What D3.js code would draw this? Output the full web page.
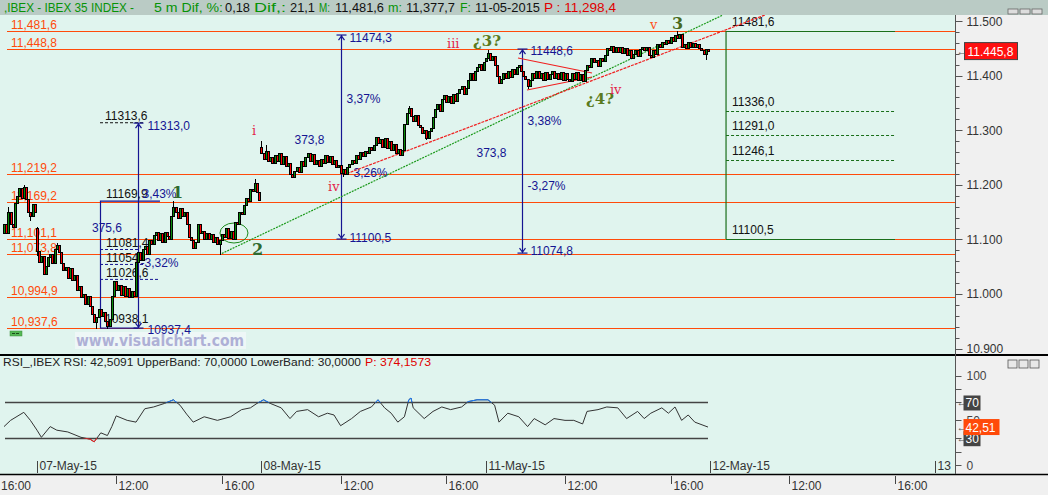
<!DOCTYPE html>
<html><head><meta charset="utf-8">
<script src="https://cdn.jsdelivr.net/npm/d3@7"></script>
<style>body{margin:0;background:#fff;overflow:hidden}svg{display:block;font-family:"Liberation Sans",Arial,sans-serif}</style>
</head><body><svg id="c" width="1048" height="495"></svg>
<script>
// ---------------- DATA ----------------
const dayLabels = ["06-May-15","07-May-15","08-May-15","11-May-15","12-May-15","13"];
const sessionMinutes = 510;          // 09:00 - 17:30
const barMinutes = 5;
const firstBarMinute = 435;          // 06-May 16:15
const dayOpens = [11112, 11120, 11270, 11426];
const closesMay06 = [11128,11112,11150,11128,11122,11166,11180,11194,11176,11196,11174,11150,11142,11164,11150];
const closesMay07 = [11078,11058,11070,11036,11052,11068,11074,11056,11082,11090,11076,11056,11044,11050,11030,11048,11026,11034,11008,11014,10994,11000,10982,10996,10978,10964,10948,10958,10972,10960,10966,10950,10942,10954,10996,11024,11008,11016,10998,11014,10996,11010,10994,11006,10996,11058,11076,11062,11082,11088,11074,11098,11092,11108,11114,11098,11112,11096,11114,11106,11100,11142,11160,11150,11140,11158,11142,11150,11128,11104,11098,11084,11096,11128,11112,11116,11100,11112,11100,11110,11096,11104,11092,11098,11110,11104,11120,11102,11116,11100,11132,11128,11150,11146,11162,11176,11170,11192,11188,11204,11186,11172];
const closesMay08 = [11258,11248,11262,11244,11250,11240,11254,11244,11258,11238,11252,11234,11240,11220,11214,11226,11232,11224,11244,11234,11250,11258,11244,11256,11238,11246,11234,11248,11240,11254,11242,11252,11238,11246,11232,11236,11222,11228,11220,11232,11238,11246,11240,11254,11248,11260,11252,11262,11258,11270,11264,11272,11288,11276,11284,11270,11286,11268,11280,11264,11274,11258,11266,11254,11264,11312,11332,11340,11326,11316,11328,11310,11306,11294,11300,11286,11298,11304,11324,11338,11348,11336,11358,11364,11352,11362,11350,11366,11354,11368,11376,11380,11366,11378,11392,11404,11392,11408,11416,11422,11410,11424.7];
const closesMay11 = [11432,11442,11428,11436,11420,11400,11386,11394,11404,11396,11408,11398,11412,11402,11416,11420,11408,11400,11394,11380,11392,11404,11396,11408,11396,11404,11392,11406,11394,11402,11408,11396,11404,11394,11406,11392,11404,11394,11390,11404,11394,11406,11392,11402,11390,11410,11420,11416,11432,11424,11428,11418,11432,11426,11438,11450,11446,11454,11444,11452,11444,11452,11442,11450,11438,11446,11432,11440,11446,11436,11448,11452,11446,11452,11438,11434,11446,11440,11458,11452,11462,11458,11466,11460,11470,11464,11474,11468,11476,11452,11458,11450,11462,11452,11460,11452,11458,11450,11446,11440,11448,11445.8];
// notable wicks: [dayIndex (0=06-May), bar, high, low]
const wicks = [[0,2,11160,null],[0,9,11200,null],[0,12,null,11136],[1,0,11122,11072],[1,9,11094,null],[1,27,null,10937],[1,32,null,10938.1],[1,62,11169.9,null],[1,83,null,11074],[1,99,11210,null],[2,0,11280,null],[2,2,11272,null],[2,37,null,11216],[2,67,11344,null],[2,75,null,11284],[3,1,11446,null],[3,19,null,11377.7],[3,87,11481.6,null],[3,100,null,11430]];
// horizontal support/resistance levels
const levels = [11481.6, 11448.8, 11219.2, 11169.2, 11101.1, 11073.8, 10994.9, 10937.6];
const levelLabels = ["11,481,6","11,448,8","11,219,2","11,169,2","11,101,1","11,073,8","10,994,9","10,937,6"];
// projection block (right)
const projLevels = [11481.6, 11336.0, 11291.0, 11246.1, 11100.5];
const projLabels = ["11481,6","11336,0","11291,0","11246,1","11100,5"];
const projDashed = [false, true, true, true, false];
// RSI samples: [global bar index, value]
const rsiBars   = [0,3,9,12,15,17,21,24,29,35,39,41,44,47,49,51,56,60,64,68,73,77,80,83,86,91,97,103,108,112,115,118,121,126,130,133,138,143,147,150,153,158,162,167,170,173,176,179,182,184,185,186,191,195,199,203,208,211,215,220,223,225,229,234,238,241,246,250,255,259,263,265,270,274,279,283,288,291,294,299,302,305,308,311,314,320];
const rsiValues = [43,50,59,50,39,31,43,39,37,31,29,26,36,33,43,55,50,48,63,65,69,73,67,57,48,54,50,54,62,64,69,73,69,64,52,60,62,54,58,56,44,52,60,65,73,64,58,48,54,73,75,64,52,60,65,62,65,71,73,73,67,48,58,54,43,52,45,52,50,50,46,60,62,65,64,52,60,52,58,64,58,65,50,56,48,42.5];
const yTicks = [10900,11000,11100,11200,11300,11400,11500];

// ---------------- SCALES ----------------
const svg = d3.select("#c");
const W = 1048, H = 495;
const axisX = 955, mainTop = 15, mainBot = 354, rsiTop = 356, rsiBot = 474;
const x = d3.scaleLinear().domain([0, 6*sessionMinutes]).range([-187.4, -187.4 + 6*224.4]);
const y = d3.scaleLinear().domain([10900, 11500]).range([348.5, 21]);
const yr = d3.scaleLinear().domain([0, 100]).range([465, 375.7]);
const T = (d, m) => d*sessionMinutes + m;

// build bars
const dayCloses = [closesMay06, closesMay07, closesMay08, closesMay11];
const bars = [];
dayCloses.forEach((arr, di) => {
  const start = di === 0 ? firstBarMinute : 0;
  arr.forEach((c, i) => {
    const o = i === 0 ? dayOpens[di] : arr[i-1];
    bars.push({d: di, i, t: T(di, start + i*barMinutes), o, c, h: Math.max(o,c), l: Math.min(o,c)});
  });
});
wicks.forEach(([d,i,h,l]) => {
  const b = bars.find(b => b.d === d && b.i === i);
  if (!b) return;
  if (h != null) b.h = Math.max(b.h, h);
  if (l != null) b.l = Math.min(b.l, l);
});

// ---------------- BACKGROUNDS ----------------
svg.append("rect").attr("width", W).attr("height", H).attr("fill", "#f0f0f0");
svg.append("rect").attr("x",0).attr("y",0).attr("width",W).attr("height",mainTop).attr("fill","#bacbc5");
svg.append("rect").attr("x",0).attr("y",mainTop).attr("width",axisX).attr("height",mainBot-mainTop).attr("fill","#e0f4ee");
svg.append("rect").attr("x",0).attr("y",rsiTop).attr("width",axisX).attr("height",rsiBot-rsiTop).attr("fill","#e0f4ee");
svg.append("line").attr("x1",0).attr("x2",W).attr("y1",mainBot+1).attr("y2",mainBot+1).attr("stroke","#000").attr("stroke-width",2);
svg.append("line").attr("x1",0).attr("x2",W).attr("y1",rsiBot+0.5).attr("y2",rsiBot+0.5).attr("stroke","#000").attr("stroke-width",1.5);
svg.append("line").attr("x1",axisX+0.5).attr("x2",axisX+0.5).attr("y1",mainTop).attr("y2",rsiBot).attr("stroke","#555");

// header
const green = "#079307";
const header = [[",IBEX - IBEX 35 INDEX -",4,130,green],["5 m Dif, %:",154,69,green],["0,18",225,25,"#111"],["Dif,:",254,32,green],["21,1",290,25,"#111"],["M:",319,11,green],["11,481,6",335,49,"#111"],["m:",388,14,green],["11,377,7",406,49,"#111"],["F:",460,11,green],["11-05-2015",475,65,"#111"],["P : 11,298,4",544,72,"#e00000"]];
header.forEach(([s,px,w,col]) => svg.append("text").attr("x",px).attr("y",12).attr("font-size",12).attr("textLength",w).attr("lengthAdjust","spacingAndGlyphs").attr("fill",col).text(s));

// ---------------- MAIN PANEL ----------------
const main = svg.append("g");
const clipM = svg.append("clipPath").attr("id","cm");
clipM.append("rect").attr("x",0).attr("y",mainTop).attr("width",axisX).attr("height",mainBot-mainTop);
const mg = main.append("g").attr("clip-path","url(#cm)");

// watermark
mg.append("rect").attr("x",75).attr("y",332).attr("width",171).attr("height",17).attr("fill","#eef7f7");
mg.append("text").attr("x",76).attr("y",346).attr("font-size",16).attr("font-weight","bold").attr("font-family","DejaVu Sans, Verdana, sans-serif").attr("textLength",168).attr("lengthAdjust","spacingAndGlyphs").attr("fill","#aeb0d6").text("www.visualchart.com");

// horizontal levels
const orange = "#ff4a0a";
levels.forEach((v, k) => {
  mg.append("line").attr("x1",7).attr("x2",axisX).attr("y1",Math.round(y(v))+0.5).attr("y2",Math.round(y(v))+0.5).attr("stroke",orange).attr("stroke-width",1.2);
  mg.append("text").attr("x",11).attr("y",Math.round(y(v))-2).attr("font-size",12).attr("fill",orange).text(levelLabels[k]);
});
// little green marker
mg.append("rect").attr("x",10).attr("y",331).attr("width",12).attr("height",5).attr("fill","#55b855").attr("stroke","#3a8a3a").attr("stroke-width",0.5);
mg.append("line").attr("x1",12).attr("x2",20).attr("y1",333.5).attr("y2",333.5).attr("stroke","#1a4a1a").attr("stroke-dasharray","3,1");

// projection block
const projX1 = x(2076), projX2 = x(2460);
const gpj = "#1a6e1a";
mg.append("line").attr("x1",projX1).attr("x2",projX1).attr("y1",y(projLevels[0])).attr("y2",y(projLevels[4])).attr("stroke",gpj).attr("stroke-width",1.2);
projLevels.forEach((v,k) => {
  mg.append("line").attr("x1",projX1).attr("x2",projX2).attr("y1",Math.round(y(v))+0.5).attr("y2",Math.round(y(v))+0.5)
    .attr("stroke",gpj).attr("stroke-width",1.2).attr("stroke-dasharray",projDashed[k]?"3,2":null);
  mg.append("text").attr("x",projX1+6).attr("y",y(v)-5).attr("font-size",12).attr("fill","#111").text(projLabels[k]);
});

// measurement annotations (navy)
const navy = "#151592";
function arrow(t, vTop, vBot){
  const ax = Math.round(x(t))+0.5, a = y(vTop), b = y(vBot);
  mg.append("line").attr("x1",ax).attr("x2",ax).attr("y1",a).attr("y2",b).attr("stroke",navy).attr("stroke-width",1.2);
  [[a,1],[b,-1]].forEach(([yy,s]) => {
    mg.append("line").attr("x1",ax-5).attr("x2",ax+5).attr("y1",yy).attr("y2",yy).attr("stroke",navy).attr("stroke-width",1.2);
    mg.append("path").attr("d",`M${ax-3},${yy+5*s}L${ax},${yy+1*s}L${ax+3},${yy+5*s}`).attr("fill","none").attr("stroke",navy).attr("stroke-width",1.2);
  });
  return ax;
}
function txt(px, py, s, col){ mg.append("text").attr("x",px).attr("y",py).attr("font-size",12).attr("fill",col).text(s); }

// box 1 (May 7)
const bx1 = x(653.2), bx2 = x(789.5);
mg.append("path").attr("d",`M${bx2},${y(11169.9)}H${Math.round(bx1)+0.5}V${y(10937.4)}H${x(739.5)}`).attr("fill","none").attr("stroke",navy).attr("stroke-width",1.2);
mg.append("line").attr("x1",bx1).attr("x2",x(755)).attr("y1",y(11313.6)).attr("y2",y(11313.6)).attr("stroke","#111").attr("stroke-dasharray","3,2");
[[11081.4,x(739.5)],[11054,x(753)],[11026.6,x(785)]].forEach(([v,x2]) => mg.append("line").attr("x1",bx1).attr("x2",x2).attr("y1",y(v)).attr("y2",y(v)).attr("stroke",navy).attr("stroke-dasharray","3,2"));
const a1 = arrow(739.5, 11313.0, 10937.4);
txt(bx1+5, y(11313.6)-3, "11313,6", "#111");
txt(a1+9, y(11313.0)+7, "11313,0", navy);
txt(bx1+6, y(11169.9)-3, "11169,9", "#111");
txt(a1+4, y(11169.9)-3, "3,43%", navy);
txt(bx1-8, y(11169.9)+31, "375,6", navy);
txt(bx1+6, y(11081.4)-2, "11081,4", "#111");
txt(bx1+6, y(11054)-2, "11054", "#111");
txt(bx1+6, y(11026.6)-2, "11026,6", "#111");
txt(a1+2, y(11054)+3, "-3,32%", navy);
txt(bx1+5, y(10937.4)-5, "10938,1", "#111");
txt(a1+9, y(10937.4)+6, "10937,4", navy);

// arrow 2 (May 8)
const a2 = arrow(1199.8, 11474.3, 11100.5);
txt(a2+8, y(11474.3)+7, "11474,3", navy);
txt(a2+8, y(11100.5)+3, "11100,5", navy);
txt(a2+5, y(11350), "3,37%", navy);
txt(a2-47, y(11275), "373,8", navy);
txt(a2+12, y(11215), "3,26%", navy);
// arrow 3 (May 11)
const a3 = arrow(1612.3, 11448.6, 11074.8);
txt(a3+8, y(11448.6)+6, "11448,6", navy);
txt(a3+8, y(11074.8)+2, "11074,8", navy);
txt(a3+5, y(11310), "3,38%", navy);
txt(a3-46, y(11250), "373,8", navy);
txt(a3+5, y(11190), "-3,27%", navy);

// trendlines
const lineGen = d3.line().x(p => x(p[0])).y(p => y(p[1]));
mg.append("path").attr("d", lineGen([[930,11074],[2069,11511]])).attr("stroke","#1c9a1c").attr("stroke-width",1.2).attr("stroke-dasharray","2,1").attr("fill","none");
mg.append("path").attr("d", lineGen([[1205.5,11217.8],[2164.5,11511]])).attr("stroke","#f02020").attr("stroke-width",1.2).attr("stroke-dasharray","3,1").attr("fill","none");
mg.append("path").attr("d", lineGen([[1603.2,11432.2],[1771.4,11404.7]])).attr("stroke","#f02020").attr("stroke-width",1.2).attr("fill","none");
mg.append("path").attr("d", lineGen([[1623.6,11373.6],[1771.4,11397.4]])).attr("stroke","#f02020").attr("stroke-width",1.2).attr("fill","none");
mg.append("ellipse").attr("cx",x(957.7)).attr("cy",y(11111.6)).attr("rx",14).attr("ry",10).attr("fill","none").attr("stroke","#1c8a1c").attr("stroke-width",1);

// candles
const cg = mg.append("g").attr("shape-rendering","crispEdges");
bars.forEach(b => {
  const cx = Math.round(x(b.t));
  cg.append("line").attr("x1",cx+0.5).attr("x2",cx+0.5).attr("y1",Math.round(y(b.h))).attr("y2",Math.round(y(b.l))+1).attr("stroke","#000").attr("stroke-width",1);
  const top = Math.round(y(Math.max(b.o,b.c))), bot = Math.round(y(Math.min(b.o,b.c)));
  cg.append("rect").attr("x",cx-0.5).attr("y",top+0.5).attr("width",2).attr("height",Math.max(1,bot-top))
    .attr("fill", b.c >= b.o ? "#0a8a0a" : "#ff0000").attr("stroke","#000").attr("stroke-width",1);
});

// wave labels
const waves = [["1",816.8,11175.7,"#2f6a2f",16,"bold"],["2",998.6,11071.3,"#2f6a2f",16,"bold"],["3",1953.2,11485.3,"#4a6a1e",16,"bold"],
  ["¿3?",1500.9,11454.2,"#5a7a20",15,"bold"],["¿4?",1757.7,11347.9,"#5a7a20",15,"bold"],
  ["i",998.6,11291,"#e3254a",13,"normal"],["iii",1441.8,11450.5,"#e3254a",13,"normal"],["iv",1171.4,11188.5,"#e3254a",13,"normal"],["iv",1812,11366,"#e3254a",13,"normal"],["v",1903,11485.3,"#ff5020",13,"normal"]];
waves.forEach(([s,t,v,col,fs,fw]) => mg.append("text").attr("x",x(t)).attr("y",y(v)).attr("font-size",fs).attr("font-weight",fw).attr("font-family","DejaVu Serif, serif").attr("fill",col).text(s));

// right price axis
const ax = svg.append("g").attr("transform",`translate(${axisX+0.5},0)`);
d3.range(10900, 11501, 20).forEach(v => {
  const major = v % 100 === 0;
  ax.append("line").attr("x1",0).attr("x2",major?7:4).attr("y1",Math.round(y(v))+0.5).attr("y2",Math.round(y(v))+0.5).attr("stroke","#555");
});
yTicks.forEach(v => ax.append("text").attr("x",11).attr("y",y(v)+4.5).attr("font-size",12).attr("fill","#333").text(d3.format(",")(v).replace(",", ".")));
// last price tag
const lastClose = closesMay11[closesMay11.length-1];
ax.append("text").attr("x",1).attr("y",y(lastClose)+4).attr("font-size",11).attr("fill","#555").text("←");
ax.append("rect").attr("x",9).attr("y",y(lastClose)-8).attr("width",53).attr("height",17).attr("fill","#ff1010").attr("stroke","#444");
ax.append("text").attr("x",12).attr("y",y(lastClose)+5).attr("font-size",12).attr("fill","#fff").text("11.445,8");
// window buttons
[0,1,2].forEach(k => svg.append("rect").attr("x",1008+k*12).attr("y",9).attr("width",10).attr("height",5).attr("fill","#ddd").attr("stroke","#666").attr("stroke-width",0.8));

// ---------------- RSI PANEL ----------------
const rg = svg.append("g");
rg.append("text").attr("x",3).attr("y",366).attr("font-size",11).attr("textLength",358).attr("lengthAdjust","spacingAndGlyphs").attr("fill","#222").text("RSI_,IBEX RSI: 42,5091 UpperBand: 70,0000 LowerBand: 30,0000");
rg.append("text").attr("x",365).attr("y",366).attr("font-size",11).attr("textLength",66).attr("lengthAdjust","spacingAndGlyphs").attr("fill","#e00000").text("P: 374,1573");
const rsiX = g => x(bars[Math.min(g, bars.length-1)].t);
const xEnd = rsiX(bars.length-1);
[70,30].forEach(v => rg.append("line").attr("x1",5).attr("x2",xEnd).attr("y1",Math.round(yr(v))+0.5).attr("y2",Math.round(yr(v))+0.5).attr("stroke","#444").attr("stroke-width",1.3));
const rsiPts = rsiBars.map((g,k) => [rsiX(g), yr(rsiValues[k])]);
const rl = d3.line();
rg.append("path").attr("d", rl(rsiPts)).attr("fill","none").attr("stroke","#333").attr("stroke-width",1);
svg.append("clipPath").attr("id","up").append("rect").attr("x",0).attr("y",rsiTop).attr("width",axisX).attr("height",yr(70)-rsiTop);
svg.append("clipPath").attr("id","dn").append("rect").attr("x",0).attr("y",yr(30)).attr("width",axisX).attr("height",rsiBot-yr(30));
rg.append("path").attr("d", rl(rsiPts)).attr("fill","none").attr("stroke","#1a7cff").attr("stroke-width",1).attr("clip-path","url(#up)");
rg.append("path").attr("d", rl(rsiPts)).attr("fill","none").attr("stroke","#ff2020").attr("stroke-width",1).attr("clip-path","url(#dn)");
// rsi axis
const rax = svg.append("g").attr("transform",`translate(${axisX+0.5},0)`);
[0,15,30,50,70,85,100].forEach(v => rax.append("line").attr("x1",0).attr("x2",6).attr("y1",Math.round(yr(v))+0.5).attr("y2",Math.round(yr(v))+0.5).attr("stroke","#555"));
[100,50,0].forEach(v => rax.append("text").attr("x",11).attr("y",yr(v)+4.5).attr("font-size",12).attr("fill","#444").text(v));
[70,30].forEach(v => {
  rax.append("text").attr("x",1).attr("y",yr(v)+4).attr("font-size",11).attr("fill","#555").text("←");
  rax.append("rect").attr("x",8).attr("y",yr(v)-7).attr("width",17).attr("height",15).attr("fill","#444");
  rax.append("text").attr("x",10).attr("y",yr(v)+5).attr("font-size",12).attr("fill","#fff").text(v);
});
rax.append("text").attr("x",1).attr("y",yr(42.51)+4).attr("font-size",11).attr("fill","#555").text("←");
rax.append("rect").attr("x",8).attr("y",yr(42.51)-8).attr("width",36).attr("height",16).attr("fill","#ff4a0a");
rax.append("text").attr("x",10).attr("y",yr(42.51)+5).attr("font-size",12).attr("fill","#fff").text("42,51");
[0,1,2].forEach(k => svg.append("rect").attr("x",1008+k*11).attr("y",360).attr("width",9).attr("height",8).attr("fill","#e8e8e8").attr("stroke","#555").attr("stroke-width",0.8));

// time axis: dates in RSI panel, hours in bottom strip
dayLabels.forEach((s, d) => {
  const px = Math.round(x(T(d,0))) + 0.5;
  if (px < 0 || px > W) return;
  svg.append("line").attr("x1",px).attr("x2",px).attr("y1",461).attr("y2",473).attr("stroke","#444");
  svg.append("text").attr("x",px+2).attr("y",470).attr("font-size",12).attr("fill","#333").text(s);
});
d3.range(0,6).forEach(d => [[180,"12:00"],[420,"16:00"]].forEach(([m,s]) => {
  const px = Math.round(x(T(d,m))) + 0.5;
  if (px < -40 || px > axisX - 20) return;
  svg.append("line").attr("x1",px).attr("x2",px).attr("y1",476).attr("y2",484).attr("stroke","#444");
  svg.append("text").attr("x",Math.max(1,px+2)).attr("y",490).attr("font-size",12).attr("fill","#333").text(s);
}));
</script></body></html>
